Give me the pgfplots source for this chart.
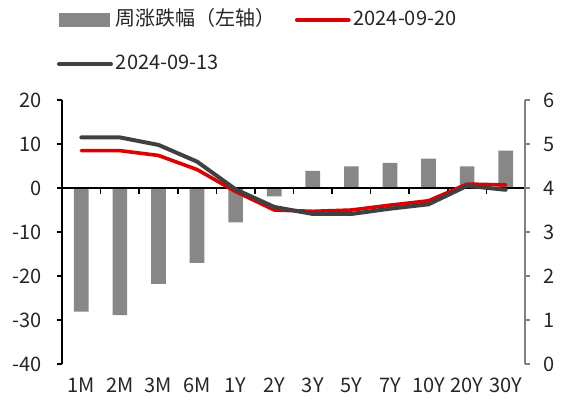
\documentclass[border=0pt]{standalone}
\usepackage{fontspec}
\setmainfont{Noto Sans CJK SC}
\usepackage{pgfplots}
\pgfplotsset{compat=1.18}
\definecolor{bargray}{RGB}{135,135,135}
\definecolor{lred}{RGB}{222,0,0}
\definecolor{ldark}{RGB}{64,64,64}
\definecolor{axgray}{RGB}{128,128,128}
\definecolor{txt}{RGB}{38,38,38}
\pgfplotsset{
  lineleg/.style={legend image code/.code={\draw[##1] (0pt,0pt) -- (26pt,0pt);}},
  barleg/.style={legend image code/.code={\fill[bargray] (0pt,-3.25pt) rectangle (25pt,3.25pt);}},
}
\begin{document}
\begin{tikzpicture}[font=\fontsize{10pt}{12pt}\selectfont]
\useasboundingbox (-31pt,-19.5pt) rectangle (251.5pt,182pt);
\begin{axis}[
  scale only axis, width=231.5pt, height=132pt,
  xmin=-0.5, xmax=11.5, ymin=-40, ymax=20,
  ytick={-40,-30,...,20},
  xtick={0,...,11},
  xticklabels={1M,2M,3M,6M,1Y,2Y,3Y,5Y,7Y,10Y,20Y,30Y},
  axis y line*=left,
  axis x line*=bottom,
  x axis line style={draw=none},
  major x tick style={draw=none},
  y axis line style={black, line width=0.8pt},
  major y tick style={black, line width=0.8pt},
  tick align=outside,
  major tick length=2.5pt,
  tick label style={text=txt},
  /pgf/number format/assume math mode=true,
  yticklabel style={xshift=-4.2pt},
  xticklabel style={yshift=-1pt},
  clip=false,
]
\addplot[ybar, bar width=0.38, fill=bargray, draw=none] coordinates {
(0,-28.1) (1,-28.9) (2,-21.8) (3,-17.0) (4,-7.8) (5,-1.9)
(6,3.9) (7,4.9) (8,5.7) (9,6.7) (10,4.9) (11,8.5)};
\draw[black, line width=0.8pt] (axis cs:-0.5,0) -- (axis cs:11.5,0);
\pgfplotsinvokeforeach{0.5,1.5,2.5,3.5,4.5,5.5,6.5,7.5,8.5,9.5,10.5,11.5}{
  \draw[black, line width=0.8pt] (axis cs:#1,0) -- ([yshift=-3pt]axis cs:#1,0);
}
\end{axis}
\begin{axis}[
  scale only axis, width=231.5pt, height=132pt,
  xmin=-0.5, xmax=11.5, ymin=0, ymax=6,
  ytick={0,1,...,6},
  axis y line*=right,
  axis x line=none,
  y axis line style={axgray, line width=0.8pt},
  major y tick style={axgray, line width=0.8pt},
  tick align=outside,
  major tick length=2.5pt,
  tick label style={text=txt},
  /pgf/number format/assume math mode=true,
  yticklabel style={xshift=3.2pt},
  clip=false,
  legend columns=2,
  legend style={draw=none, fill=none, inner sep=0pt, outer sep=0pt,
    anchor=north west, at={(-0.0108,1.350)},
    nodes={inner sep=1.5pt, text height=7.5pt, text depth=2pt, text=txt},
    /tikz/column 2/.style={column sep=8pt},
    row sep=9.5pt},
  legend cell align=left,
]
\addlegendimage{barleg}
\addlegendentry{周涨跌幅（左轴）}
\addplot[lred, line width=1.8pt, line join=round, line cap=round, lineleg] coordinates {
(0,4.85) (1,4.85) (2,4.74) (3,4.42) (4,3.92) (5,3.50)
(6,3.47) (7,3.50) (8,3.61) (9,3.71) (10,4.09) (11,4.07)};
\addlegendentry{2024-09-20}
\addplot[ldark, line width=2pt, line join=round, line cap=round, lineleg] coordinates {
(0,5.15) (1,5.15) (2,4.98) (3,4.60) (4,3.97) (5,3.57)
(6,3.41) (7,3.41) (8,3.53) (9,3.63) (10,4.05) (11,3.96)};
\addlegendentry{2024-09-13}
\end{axis}
\end{tikzpicture}
\end{document}
